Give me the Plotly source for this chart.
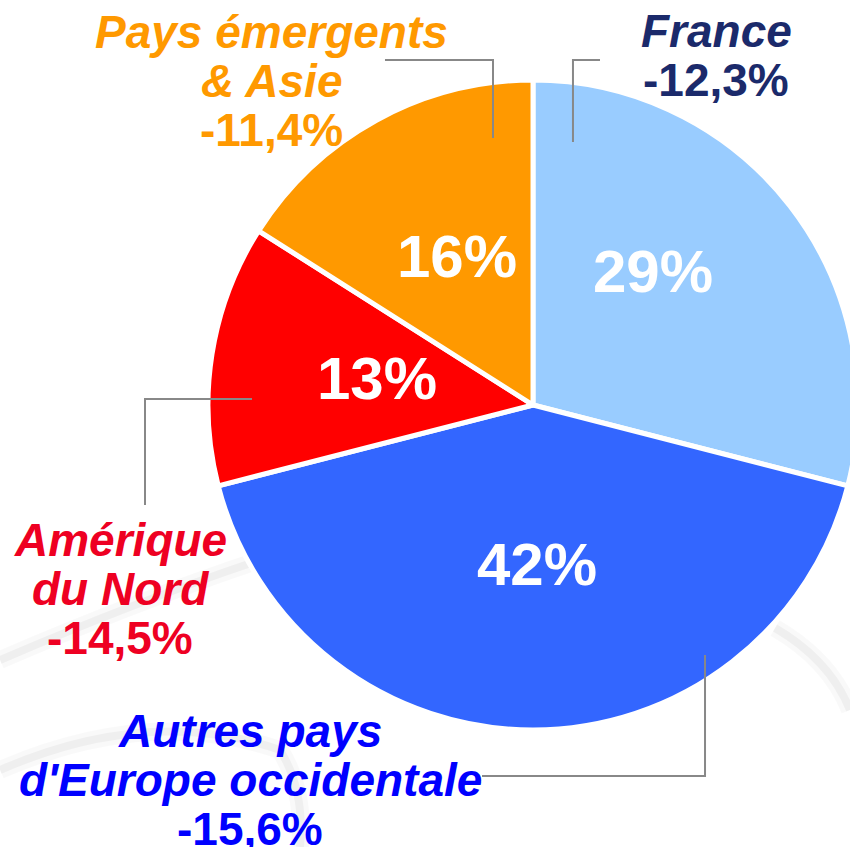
import plotly.graph_objects as go

# page body margin removed (post_script below); figure slightly wider than the
# window so the pie can run past the right edge as in the reference
OFF = 0
FW, FH = 858, 847

# ---- data ----
regions = ["France", "Autres pays d'Europe occidentale", "Amérique du Nord", "Pays émergents & Asie"]
shares = [29, 42, 13, 16]
changes = ["-12,3%", "-15,6%", "-14,5%", "-11,4%"]
name_lines = [["France"], ["Autres pays", "d'Europe occidentale"], ["Amérique", "du Nord"], ["Pays émergents", "& Asie"]]

# ---- styles ----
slice_colors = ["#99CCFF", "#3366FF", "#FF0000", "#FF9900"]
text_colors = ["#1B2A6B", "#0000FF", "#EE0022", "#FF9900"]
FONT = "Liberation Sans, Arial, sans-serif"

# label layout (window pixel positions: centre x, first baseline y)
label_pos = [(716, 45), (250, 745), (120, 554), (271, 46)]
line_step = 49
inside_pos = [(653, 271), (537, 564), (377, 379), (457, 256)]
leaders = [
    [(600, 60), (573, 60), (573, 142)],
    [(705, 655), (705, 776), (482, 776)],
    [(252, 399), (145, 399), (145, 505)],
    [(385, 60), (493, 60), (493, 138)],
]
pie_cx, pie_cy, pie_r = 533, 405, 325


def px(x, y):
    return (x - OFF) / FW, 1 - (y - OFF) / FH


fig = go.Figure()
x0, y1 = px(pie_cx - pie_r, pie_cy - pie_r)
x1, y0 = px(pie_cx + pie_r, pie_cy + pie_r)
fig.add_trace(go.Pie(
    labels=regions,
    values=shares,
    sort=False,
    direction="clockwise",
    rotation=0,
    marker=dict(colors=slice_colors, line=dict(color="white", width=5)),
    textinfo="none",
    hoverinfo="label+percent",
    showlegend=False,
    domain=dict(x=[max(0, x0), min(1, x1)], y=[max(0, y0), min(1, y1)]),
))

annotations = []
OUT_SIZE = 46
for i in range(len(regions)):
    cx, by = label_pos[i]
    lines = [f"<b><i>{t}</i></b>" for t in name_lines[i]] + [f"<b>{changes[i]}</b>"]
    for k, t in enumerate(lines):
        x, y = px(cx, by + k * line_step - 0.30 * OUT_SIZE)
        annotations.append(dict(
            x=x, y=y, xref="paper", yref="paper", text=t, showarrow=False,
            xanchor="center", yanchor="middle",
            font=dict(family=FONT, size=OUT_SIZE, color=text_colors[i]),
        ))
    ix, iy = px(*inside_pos[i])
    annotations.append(dict(
        x=ix, y=iy, xref="paper", yref="paper", text=f"<b>{shares[i]}%</b>",
        showarrow=False, xanchor="center", yanchor="middle",
        font=dict(family=FONT, size=60, color="white"),
    ))

shapes = []
# faint decorative background swooshes
swooshes = [
    "M 775 628 Q 830 660 850 710",
    "M 0 770 Q 150 705 280 750 Q 305 790 300 847",
    "M 0 660 Q 140 600 260 560",
]
for p in swooshes:
    pts = p.split()
    out = []
    j = 0
    while j < len(pts):
        tok = pts[j]
        if tok.isalpha():
            out.append(tok)
            j += 1
        else:
            x, y = px(float(pts[j]), float(pts[j + 1]))
            out.append(f"{x:.4f},{y:.4f}")
            j += 2
    for wdt, alpha in [(18, 0.025), (8, 0.04)]:
        shapes.append(dict(type="path", path=" ".join(out), xref="paper", yref="paper",
                           line=dict(color=f"rgba(0,0,0,{alpha})", width=wdt), layer="below"))

for pts in leaders:
    path = "M " + " L ".join("{:.4f},{:.4f}".format(*px(x, y)) for x, y in pts)
    shapes.append(dict(type="path", path=path, xref="paper", yref="paper",
                       line=dict(color="#888888", width=2), layer="above"))

fig.update_layout(
    width=FW, height=FH, autosize=False,
    margin=dict(l=0, r=0, t=0, b=0),
    paper_bgcolor="white", plot_bgcolor="white",
    annotations=annotations, shapes=shapes,
    font=dict(family=FONT),
)

fig.write_html(
    "out.html",
    config={"displayModeBar": False},
    post_script="document.body.style.margin='0';document.body.style.overflow='hidden';",
)
